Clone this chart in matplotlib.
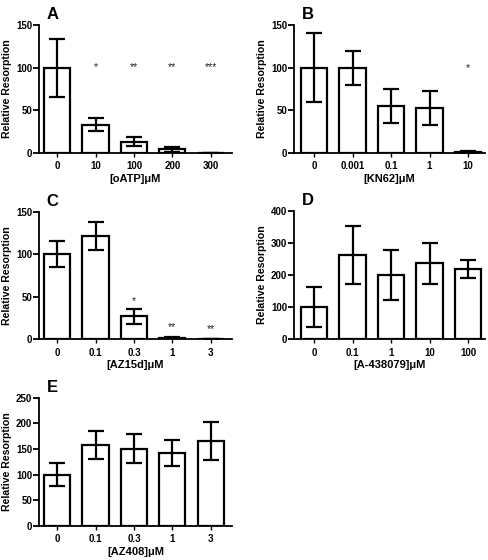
import matplotlib
matplotlib.use("Agg")
import matplotlib.pyplot as plt

plt.rcParams['font.family'] = ['Liberation Sans', 'DejaVu Sans']

# Panel A
a_labels = ["0", "10", "100", "200", "300"]
a_means = [100, 33, 13, 4, 0]
a_errs = [34, 7.5, 5, 3, 0]
a_stars = ["", "*", "**", "**", "***"]
a_star_y = [100, 100, 100, 100, 100]

# Panel B
b_labels = ["0", "0.001", "0.1", "1", "10"]
b_means = [100, 100, 55, 52, 1]
b_errs = [41, 20, 20, 20, 1]
b_stars = ["", "", "", "", "*"]
b_star_y = [0, 0, 0, 0, 99]

# Panel C
c_labels = ["0", "0.1", "0.3", "1", "3"]
c_means = [100, 121, 27, 2, 0]
c_errs = [15, 16.5, 9, 1, 0]
c_stars = ["", "", "*", "**", "**"]
c_star_y = [0, 0, 45, 14, 12]

# Panel D
d_labels = ["0", "0.1", "1", "10", "100"]
d_means = [100, 262, 200, 236, 218]
d_errs = [62, 90, 78, 63, 28]

# Panel E
e_labels = ["0", "0.1", "0.3", "1", "3"]
e_means = [100, 158, 151, 142, 165]
e_errs = [22, 27, 28, 26, 37]

W, H = 489, 560
fig = plt.figure(figsize=(W / 100, H / 100), dpi=100)


def make_ax(x0, x1, ytop, ybot):
    return fig.add_axes([x0 / W, 1 - ybot / H, (x1 - x0) / W, (ybot - ytop) / H])


def draw(ax, labels, means, errs, ymax, ystep, xlabel, letter, xlim,
         stars=None, star_y=None):
    x = list(range(len(labels)))
    ax.bar(x, means, width=0.68, color="white", edgecolor="black",
           linewidth=1.6, zorder=2)
    ax.errorbar(x, means, yerr=errs, fmt="none", ecolor="black",
                elinewidth=1.6, capsize=6, capthick=1.6, zorder=3)
    if stars:
        for xi, s, sy in zip(x, stars, star_y):
            if s:
                ax.text(xi, sy, s, ha="center", va="center", fontsize=7.5,
                        color="#222222")
    ax.set_xlim(*xlim)
    ax.set_ylim(0, ymax)
    ax.set_yticks(list(range(0, ymax + 1, ystep)))
    ax.set_xticks(x)
    ax.set_xticklabels(labels, fontsize=7, fontweight="bold")
    for t in ax.get_yticklabels():
        t.set_fontsize(7)
        t.set_fontweight("bold")
    for s in ["top", "right"]:
        ax.spines[s].set_visible(False)
    for s in ["left", "bottom"]:
        ax.spines[s].set_linewidth(1.3)
    ax.tick_params(axis="y", length=4, width=1.3, pad=1)
    ax.tick_params(axis="x", length=3, width=1.0, pad=3)
    ax.set_ylabel("Relative Resorption", fontsize=7.6, fontweight="bold",
                  labelpad=3)
    ax.set_xlabel(xlabel, fontsize=8, fontweight="bold", labelpad=2)
    ax.text(0.04, 1.02, letter, transform=ax.transAxes, fontsize=12,
            fontweight="bold", ha="left", va="bottom")


axA = make_ax(39, 232, 25, 152.7)
draw(axA, a_labels, a_means, a_errs, 150, 50, "[oATP]\u03bcM", "A",
     (-0.47, 4.55), a_stars, a_star_y)

axB = make_ax(294, 485, 25, 152.7)
draw(axB, b_labels, b_means, b_errs, 150, 50, "[KN62]\u03bcM", "B",
     (-0.52, 4.44), b_stars, b_star_y)

axC = make_ax(39, 232, 211.7, 339.3)
draw(axC, c_labels, c_means, c_errs, 150, 50, "[AZ15d]\u03bcM", "C",
     (-0.47, 4.55), c_stars, c_star_y)

axD = make_ax(294, 485, 210.7, 339.3)
draw(axD, d_labels, d_means, d_errs, 400, 100, "[A-438079]\u03bcM", "D",
     (-0.52, 4.44))

axE = make_ax(39, 232, 397.7, 526)
draw(axE, e_labels, e_means, e_errs, 250, 50, "[AZ408]\u03bcM", "E",
     (-0.47, 4.55))

fig.savefig("out.png", dpi=100, facecolor="white")
